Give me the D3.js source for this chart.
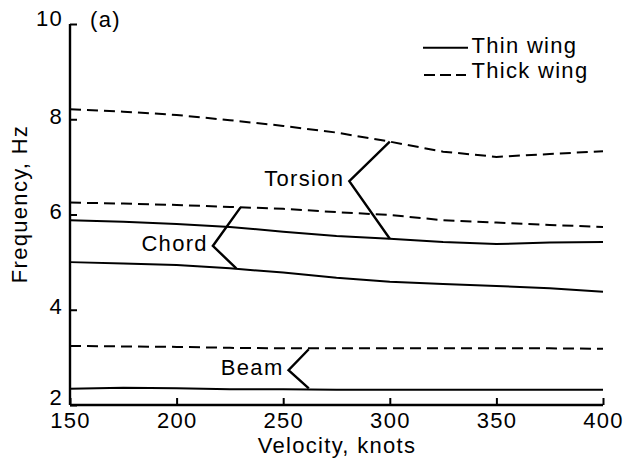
<html><head>
<meta charset="utf-8">
<script src="https://d3js.org/d3.v7.min.js"></script>
<style>
  body { margin: 0; background: #fff; }
  text { font-family: "Liberation Sans", Arial, sans-serif; font-size: 22px; letter-spacing: 1.3px; fill: #000; }
</style>
</head>
<body>
<div id="chart"></div>
<script>

// velocity (knots) and frequency (Hz)
var velocity = [150, 175, 200, 225, 250, 275, 300, 325, 350, 375, 400];

var thickTorsion = [8.21, 8.16, 8.09, 7.98, 7.86, 7.72, 7.53, 7.32, 7.21, 7.27, 7.33];
var thinTorsion  = [5.88, 5.85, 5.80, 5.74, 5.64, 5.55, 5.49, 5.42, 5.38, 5.41, 5.42];
var thickChord   = [6.25, 6.23, 6.20, 6.16, 6.12, 6.05, 5.99, 5.88, 5.83, 5.78, 5.74];
var thinChord    = [5.00, 4.97, 4.94, 4.87, 4.78, 4.67, 4.59, 4.54, 4.50, 4.45, 4.38];
var thickBeam    = [3.24, 3.23, 3.22, 3.20, 3.19, 3.19, 3.19, 3.19, 3.19, 3.19, 3.18];
var thinBeam     = [2.34, 2.36, 2.35, 2.33, 2.33, 2.32, 2.32, 2.32, 2.32, 2.32, 2.32];

var xTicks = [150, 200, 250, 300, 350, 400];
var yTicks = [2, 4, 6, 8, 10];

// mode labels with their zigzag pointers [velocity, frequency]
var modeNames = ["Torsion", "Chord", "Beam"];
var modePointers = [
  [[300, 7.53], [281, 6.70], [300, 5.49]],
  [[230, 6.15], [217, 5.34], [228, 4.87]],
  [[262, 3.17], [252.5, 2.73], [262, 2.35]]
];

var legendNames = ["Thin wing", "Thick wing"];

var width = 624, height = 462;

var svg = d3.select("#chart")
  .append("svg")
    .attr("width", width)
    .attr("height", height);

var x = d3.scaleLinear().domain([150, 400]).range([70, 603]);
var y = d3.scaleLinear().domain([2, 10]).range([405, 24]);

// axes: ticks point inward
var xAxis = d3.axisTop(x).tickValues(xTicks).tickSize(7).tickFormat("");
var gx = svg.append("g").attr("transform", "translate(0,405)").call(xAxis);
var yAxis = d3.axisRight(y).tickValues(yTicks).tickSize(7).tickFormat("");
var gy = svg.append("g").attr("transform", "translate(70,0)").call(yAxis);

[gx, gy].forEach(function(g) {
  g.select(".domain").attr("stroke", "#000").attr("stroke-width", 2.4);
  g.selectAll(".tick line").attr("stroke", "#000").attr("stroke-width", 2);
});
gx.select(".domain").attr("d", "M70,0H603");
gy.select(".domain").attr("d", "M0,24V405");

svg.selectAll(".xlab")
  .data(xTicks)
  .enter().append("text")
    .attr("x", function(d) { return x(d) + 0.6; })
    .attr("y", 428)
    .attr("text-anchor", "middle")
    .text(function(d) { return d; });

// end labels sit a little higher, as in the figure
svg.selectAll(".ylab")
  .data(yTicks)
  .enter().append("text")
    .attr("x", 63)
    .attr("y", function(d) { return y(d) + (d == 2 ? 0 : d == 10 ? 2 : 4.5); })
    .attr("text-anchor", "end")
    .text(function(d) { return d; });

svg.append("text")
  .attr("x", 337)
  .attr("y", 453)
  .attr("text-anchor", "middle")
  .text("Velocity, knots");

svg.append("text")
  .attr("transform", "translate(27,204) rotate(-90)")
  .attr("text-anchor", "middle")
  .text("Frequency, Hz");

svg.append("text")
  .attr("x", 90)
  .attr("y", 27)
  .text("(a)");

// curves
var line = d3.line()
  .x(function(d, i) { return x(velocity[i]); })
  .y(function(d) { return y(d); });

var series = [
  {values: thickTorsion, dashed: true},
  {values: thinTorsion, dashed: false},
  {values: thickChord, dashed: true},
  {values: thinChord, dashed: false},
  {values: thickBeam, dashed: true},
  {values: thinBeam, dashed: false}
];

series.forEach(function(s) {
  svg.append("path")
    .datum(s.values)
    .attr("fill", "none")
    .attr("stroke", "#000")
    .attr("stroke-width", 2)
    .attr("stroke-dasharray", s.dashed ? "11,6" : null)
    .attr("d", line);
});

// pointers and mode labels
var pointer = d3.line()
  .x(function(d) { return x(d[0]); })
  .y(function(d) { return y(d[1]); });

modePointers.forEach(function(p, i) {
  svg.append("path")
    .attr("fill", "none")
    .attr("stroke", "#000")
    .attr("stroke-width", 2.4)
    .attr("d", pointer(p));
  svg.append("text")
    .attr("x", x(p[1][0]) - 5)
    .attr("y", y(p[1][1]) + 5)
    .attr("text-anchor", "end")
    .text(modeNames[i]);
});

// legend
var legend = svg.append("g");
legend.append("line")
  .attr("x1", 423).attr("x2", 468)
  .attr("y1", 47.7).attr("y2", 47.7)
  .attr("stroke", "#000").attr("stroke-width", 2);
legend.append("line")
  .attr("x1", 424).attr("x2", 466)
  .attr("y1", 75).attr("y2", 75)
  .attr("stroke", "#000").attr("stroke-width", 2)
  .attr("stroke-dasharray", "11,5");
legend.append("text").attr("x", 471.5).attr("y", 53.3).text(legendNames[0]);
legend.append("text").attr("x", 471.5).attr("y", 77.7).text(legendNames[1]);

</script>
</body></html>
